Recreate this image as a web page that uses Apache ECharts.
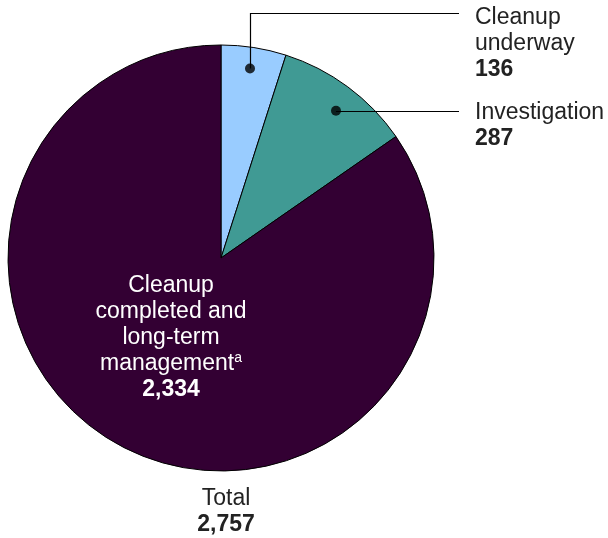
<!DOCTYPE html>
<html>
<head>
<meta charset="utf-8">
<script src="https://cdn.jsdelivr.net/npm/echarts@6/dist/echarts.min.js"></script>
<style>html,body{margin:0;padding:0;background:#fff}#c{width:608px;height:538px}</style>
</head>
<body>
<div id="c"></div>
<script>
// ---- data ----
var categories = ['Cleanup underway', 'Investigation', 'Cleanup completed and long-term management'];
var values = [136, 287, 2334];
var labelNames = ['Cleanup\nunderway', 'Investigation', 'Cleanup\ncompleted and\nlong-term\nmanagement{sup|a}'];
var valueLabels = ['136', '287', '2,334'];
var totalLabel = '2,757';
var colors = ['#99ccff', '#409a94', '#330033'];

// ---- layout ----
var CX = 221, CY = 258, R = 213;
var FONT = '"Liberation Sans", Arial, sans-serif';
var total = values.reduce(function (a, b) { return a + b; }, 0);
var starts = [];
(function () { var s = 0; values.forEach(function (v) { starts.push(s); s += v; }); })();
var dotSpanFrac = [0.49, 0.54];   // where the dot sits along each slice's arc
var dotRadFrac = [0.9, 0.877];    // dot distance from centre, fraction of radius
var dotVals = [0, 1].map(function (i) { return starts[i] + values[i] * dotSpanFrac[i]; });
function polarPt(frac, val) {
  var a = val / total * Math.PI * 2;
  return [CX + Math.sin(a) * frac * R, CY - Math.cos(a) * frac * R];
}
var LABEL_X = 475, LINE_END_X = 459;
var labelTops = [5, 100];
var TOP_LINE_Y = 13.5;

var dots = [0, 1].map(function (i) { return polarPt(dotRadFrac[i], dotVals[i]); });
var leaderLines = [
  [[Math.round(dots[0][0]) + 0.5, dots[0][1]], [Math.round(dots[0][0]) + 0.5, TOP_LINE_Y], [LINE_END_X, TOP_LINE_Y]],
  [[dots[1][0], Math.round(dots[1][1]) + 0.5], [LINE_END_X, Math.round(dots[1][1]) + 0.5]]
];

var chart = echarts.init(document.getElementById('c'), null, {renderer: 'canvas'});
chart.setOption({
  animation: false,
  backgroundColor: '#ffffff',
  polar: {center: [CX, CY], radius: [0, R]},
  angleAxis: {type: 'value', min: 0, max: total, startAngle: 90, clockwise: true, show: false},
  radiusAxis: {type: 'value', min: 0, max: 1, show: false},
  title: {
    text: 'Total\n{b|' + totalLabel + '}',
    left: CX, top: 481, textAlign: 'center',
    textStyle: {fontFamily: FONT, fontSize: 23, fontWeight: 'normal', color: '#222', lineHeight: 26,
      rich: {b: {fontFamily: FONT, fontSize: 23, fontWeight: 'bold', color: '#222', lineHeight: 26}}}
  },
  graphic: leaderLines.map(function (pts) {
    return {type: 'polyline', z: 100, silent: true, shape: {points: pts},
      style: {stroke: '#000', lineWidth: 1.2, fill: null}};
  }),
  series: [{
    type: 'pie',
    center: [CX, CY],
    radius: [0, R],
    startAngle: 90,
    clockwise: true,
    silent: true,
    itemStyle: {borderColor: '#000', borderWidth: 1},
    labelLine: {show: false},
    data: values.map(function (v, i) {
      var inside = i === 2;
      return {
        value: v, name: categories[i],
        itemStyle: {color: colors[i]},
        label: {
          show: true,
          position: inside ? 'inside' : 'outside',
          formatter: labelNames[i] + '\n{b|' + valueLabels[i] + '}',
          fontFamily: FONT, fontSize: 23, lineHeight: 26,
          color: inside ? '#ffffff' : '#222',
          align: inside ? 'center' : 'left',
          rich: {
            b: {fontFamily: FONT, fontSize: 23, fontWeight: 'bold', lineHeight: 26, color: inside ? '#ffffff' : '#222'},
            sup: {fontFamily: FONT, fontSize: 14, lineHeight: 26, verticalAlign: 'top', padding: [0, 0, 12, 0], color: '#ffffff'}
          }
        },
        labelLine: {show: false}
      };
    }),
    labelLayout: function (p) {
      var i = p.dataIndex;
      if (i === 2) {
        return {x: 171, y: 338, align: 'center', verticalAlign: 'middle'};
      }
      return {x: LABEL_X, y: labelTops[i], align: 'left', verticalAlign: 'top'};
    }
  }, {
    type: 'scatter',
    coordinateSystem: 'polar',
    silent: true,
    symbol: 'circle',
    symbolSize: 10,
    itemStyle: {color: '#000'},
    z: 10,
    data: [[dotRadFrac[0], dotVals[0]], [dotRadFrac[1], dotVals[1]]]
  }]
});
</script>
</body>
</html>
